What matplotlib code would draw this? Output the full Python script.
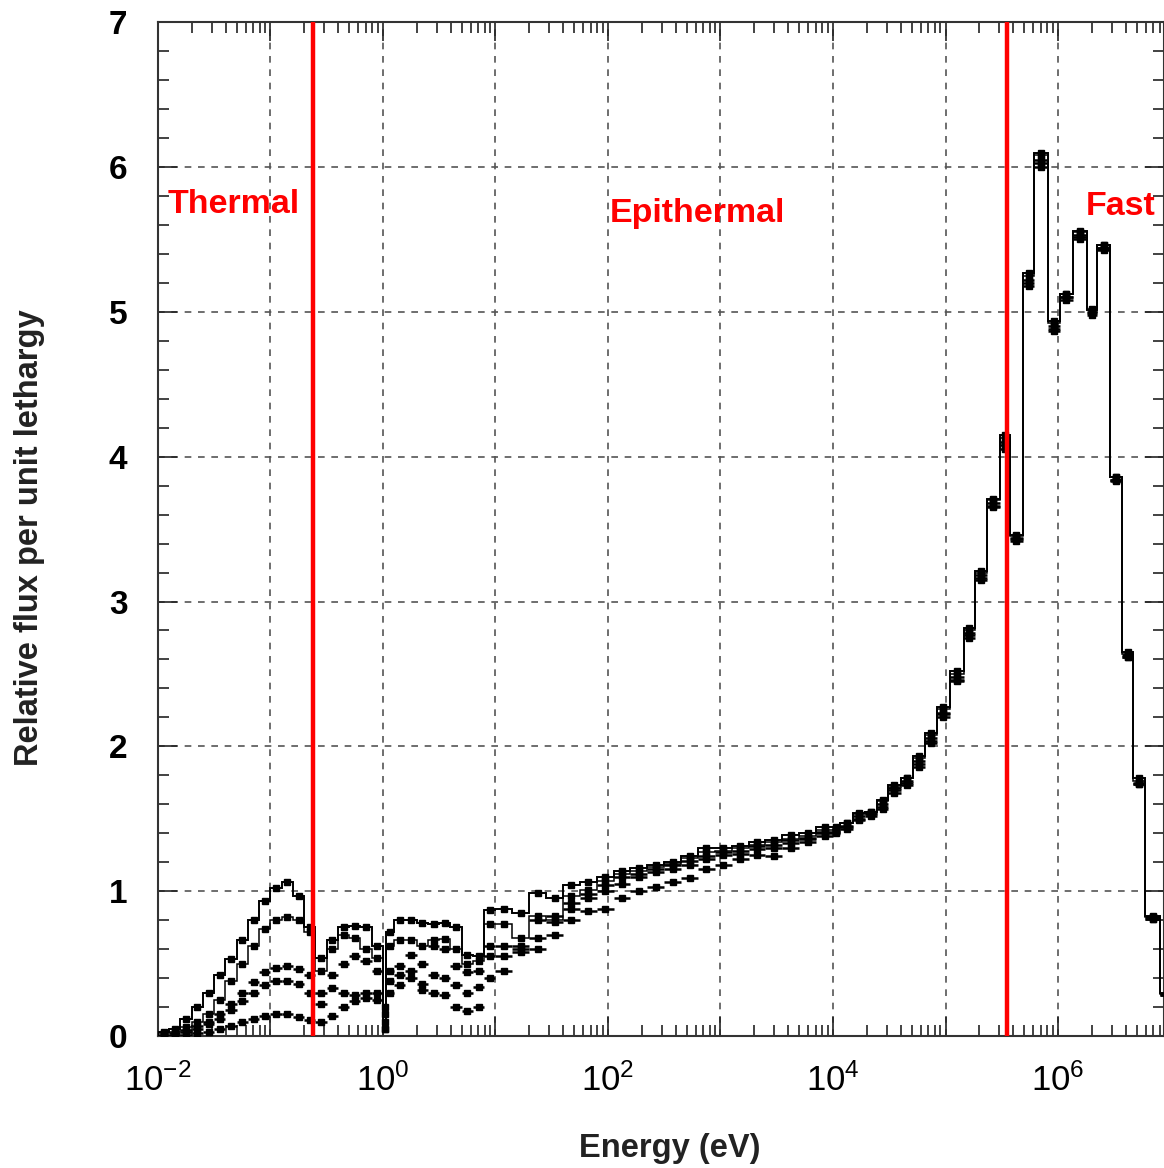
import numpy as np
import matplotlib.pyplot as plt
from matplotlib.ticker import FixedLocator, FuncFormatter, MultipleLocator

plt.rcParams['font.family'] = ['Liberation Sans', 'DejaVu Sans']
plt.rcParams['mathtext.fontset'] = 'custom'
plt.rcParams['mathtext.rm'] = 'Liberation Sans:bold'
plt.rcParams['mathtext.it'] = 'Liberation Sans:bold'
plt.rcParams['mathtext.bf'] = 'Liberation Sans:bold'
plt.rcParams['axes.unicode_minus'] = False

# group boundaries, log10(E / eV)
log_edges = [-2.0, -1.9, -1.8, -1.7, -1.6, -1.5, -1.4, -1.3, -1.2, -1.1, -1.0,
             -0.9, -0.8, -0.7, -0.6, -0.5, -0.4, -0.3, -0.2, -0.1, 0.0,
             0.03, 0.1, 0.2, 0.3, 0.4, 0.5, 0.6, 0.7, 0.8, 0.9, 1.0,
             1.15, 1.3, 1.45, 1.6, 1.75, 1.9, 2.05, 2.2, 2.35, 2.5, 2.65, 2.8,
             2.95, 3.1, 3.25, 3.4, 3.55, 3.7, 3.85, 4.0,
             4.06, 4.18, 4.28, 4.39, 4.49, 4.6, 4.71, 4.82, 4.92, 5.04, 5.16,
             5.26, 5.37, 5.48, 5.57, 5.69, 5.79, 5.91, 6.02, 6.13, 6.26, 6.35,
             6.46, 6.57, 6.67, 6.77, 6.91, 7.04]

flux_a = [0.03, 0.05, 0.12, 0.2, 0.3, 0.42, 0.53, 0.66, 0.8, 0.93, 1.02, 1.06, 0.97, 0.75,
          0.54, 0.66, 0.75, 0.76, 0.75, 0.62,
          0.05, 0.72, 0.8, 0.8, 0.78, 0.77, 0.78, 0.75, 0.56, 0.55, 0.87,
          0.88, 0.85, 0.99, 0.95, 1.04, 1.06, 1.1, 1.14, 1.16, 1.18, 1.2, 1.24, 1.3, 1.3,
          1.31, 1.34, 1.35, 1.39, 1.4, 1.44,
          1.44, 1.47, 1.54, 1.55, 1.63, 1.73, 1.78, 1.93, 2.09, 2.27, 2.52, 2.82, 3.21, 3.71,
          4.15, 3.46, 5.27, 6.1, 4.94, 5.12, 5.56, 5.01, 5.46, 3.86, 2.65, 1.78, 0.83, 0.3]
flux_b = [0.02, 0.03, 0.06, 0.1, 0.15, 0.25, 0.38, 0.5, 0.62, 0.74, 0.8, 0.82, 0.8, 0.72,
          0.45, 0.6, 0.7, 0.68, 0.6, 0.54,
          0.1, 0.62, 0.66, 0.66, 0.62, 0.66, 0.67, 0.6, 0.5, 0.52, 0.77,
          0.77, 0.68, 0.83, 0.8, 0.97, 1.01, 1.07, 1.12, 1.14, 1.17, 1.19, 1.23, 1.27, 1.28,
          1.3, 1.32, 1.34, 1.36, 1.38, 1.42,
          1.43, 1.47, 1.53, 1.55, 1.62, 1.72, 1.78, 1.92, 2.08, 2.26, 2.5, 2.8, 3.2, 3.7,
          4.13, 3.45, 5.25, 6.08, 4.92, 5.12, 5.55, 5.02, 5.46, 3.86, 2.64, 1.76, 0.82, 0.29]
flux_c = [0.01, 0.02, 0.04, 0.07, 0.1, 0.15, 0.22, 0.3, 0.37, 0.44, 0.47, 0.48, 0.46, 0.42,
          0.3, 0.42, 0.5, 0.55, 0.52, 0.45,
          0.15, 0.45, 0.48, 0.56, 0.5, 0.62, 0.6, 0.48, 0.44, 0.45, 0.62,
          0.62, 0.6, 0.8, 0.83, 0.92, 0.98, 1.04, 1.1, 1.12, 1.15, 1.18, 1.21, 1.24, 1.27,
          1.28, 1.31, 1.32, 1.35, 1.37, 1.41,
          1.42, 1.45, 1.52, 1.54, 1.6, 1.71, 1.76, 1.9, 2.06, 2.23, 2.48, 2.78, 3.18, 3.68,
          4.1, 3.44, 5.22, 6.05, 4.9, 5.1, 5.53, 5.0, 5.44, 3.84, 2.63, 1.75, 0.82, 0.29]
flux_d = [0.0, 0.01, 0.03, 0.05, 0.08, 0.12, 0.18, 0.24, 0.3, 0.35, 0.38, 0.38, 0.36, 0.3,
          0.22, 0.33, 0.3, 0.28, 0.3, 0.3,
          0.2, 0.38, 0.42, 0.45, 0.36, 0.42, 0.4, 0.35, 0.3, 0.34, 0.55,
          0.55, 0.62, 0.68, 0.79, 0.88, 0.95, 1.0, 1.05, 1.1, 1.13, 1.15, 1.18, 1.22, 1.25,
          1.26, 1.29, 1.3, 1.33, 1.36, 1.4,
          1.41, 1.44, 1.5, 1.53, 1.58, 1.7, 1.75, 1.88, 2.04, 2.22, 2.46, 2.77, 3.16, 3.66,
          4.08, 3.43, 5.2, 6.03, 4.88, 5.1, 5.52, 4.99, 5.44, 3.84, 2.62, 1.74, 0.81, 0.28]
flux_e = [0.0, 0.0, 0.01, 0.02, 0.03, 0.05, 0.07, 0.1, 0.12, 0.14, 0.15, 0.15, 0.13, 0.11,
          0.1, 0.14, 0.2, 0.24, 0.26, 0.25,
          0.05, 0.3, 0.35, 0.4, 0.32, 0.3, 0.28, 0.2, 0.17, 0.2, 0.4,
          0.45, 0.58, 0.6, 0.7, 0.8, 0.86, 0.88, 0.95, 1.0, 1.03, 1.06, 1.09, 1.15, 1.18,
          1.22, 1.25, 1.24, 1.3, 1.34, 1.38,
          1.4, 1.43, 1.49, 1.52, 1.57, 1.68, 1.73, 1.86, 2.02, 2.2, 2.45, 2.75, 3.15, 3.65,
          4.05, 3.42, 5.18, 6.0, 4.87, 5.08, 5.5, 4.98, 5.43, 3.83, 2.62, 1.74, 0.81, 0.28]

region_cuts = [0.24, 3.5e5]
region_names = ['Thermal', 'Epithermal', 'Fast']
region_label_x = [0.0123, 630, 1.75e6]
region_label_y = [5.74, 5.68, 5.73]
region_label_ha = ['left', 'center', 'left']

edges = 10.0 ** np.array(log_edges)
centers = np.sqrt(edges[:-1] * edges[1:])

fig = plt.figure(figsize=(11.64, 11.68), dpi=100)
ax = fig.add_axes([0.1357, 0.113, 0.8643, 0.868])

# full step histograms for the two upper curves
for vals, lw in [(flux_a, 1.4), (flux_b, 1.1)]:
    ax.stairs(vals, edges, color='black', lw=lw, zorder=3)
# the lower curves show only as horizontal bars
for vals in [flux_c, flux_d, flux_e]:
    ax.hlines(vals, edges[:-1], edges[1:], color='black', lw=1.8, zorder=3)
for vals in [flux_a, flux_b, flux_c, flux_d, flux_e]:
    ax.plot(centers, vals, 's', color='black', ms=5, zorder=4)

for xc in region_cuts:
    ax.axvline(xc, ymin=0, ymax=1, color='#ff0000', lw=3.2, zorder=5)
for name, tx, ty, ha in zip(region_names, region_label_x, region_label_y, region_label_ha):
    ax.text(tx, ty, name, color='#ff0000', fontsize=24.5, fontweight='bold',
            ha=ha, va='center', zorder=6)

ax.set_xscale('log')
ax.set_xlim(1e-2, 10 ** 6.942)
ax.set_ylim(0, 7)

ax.xaxis.set_major_locator(FixedLocator(10.0 ** np.arange(-2, 8)))
ax.xaxis.set_major_formatter(FuncFormatter(
    lambda v, p: r'$\mathdefault{10^{%d}}$' % round(np.log10(v)) if round(np.log10(v)) % 2 == 0 else ''))
ax.yaxis.set_major_locator(MultipleLocator(1))
ax.yaxis.set_minor_locator(MultipleLocator(0.2))

ax.tick_params(which='both', direction='in', top=True, right=True, width=1.2, color='#222222')
ax.tick_params(which='major', length=14)
ax.tick_params(which='minor', length=8)
ax.tick_params(axis='y', which='major', labelsize=24, pad=22)
ax.tick_params(axis='x', which='major', labelsize=25, pad=20)
for lab in ax.get_yticklabels():
    lab.set_fontweight('bold')

ax.grid(True, which='major', color='#555555', linestyle=(0, (4, 4)), lw=1.2)
ax.set_axisbelow(True)
for s in ax.spines.values():
    s.set_linewidth(1.5)
    s.set_color('#333333')

fig.text(670 / 1164, 1 - 1148 / 1168, 'Energy (eV)', fontsize=23.5, fontweight='bold',
         color='#222222', ha='center', va='center')
fig.text(30 / 1164, 1 - 538 / 1168, 'Relative flux per unit lethargy', fontsize=23.5,
         fontweight='bold', color='#222222', ha='center', va='center', rotation=90)

plt.savefig('out.png', dpi=100)
